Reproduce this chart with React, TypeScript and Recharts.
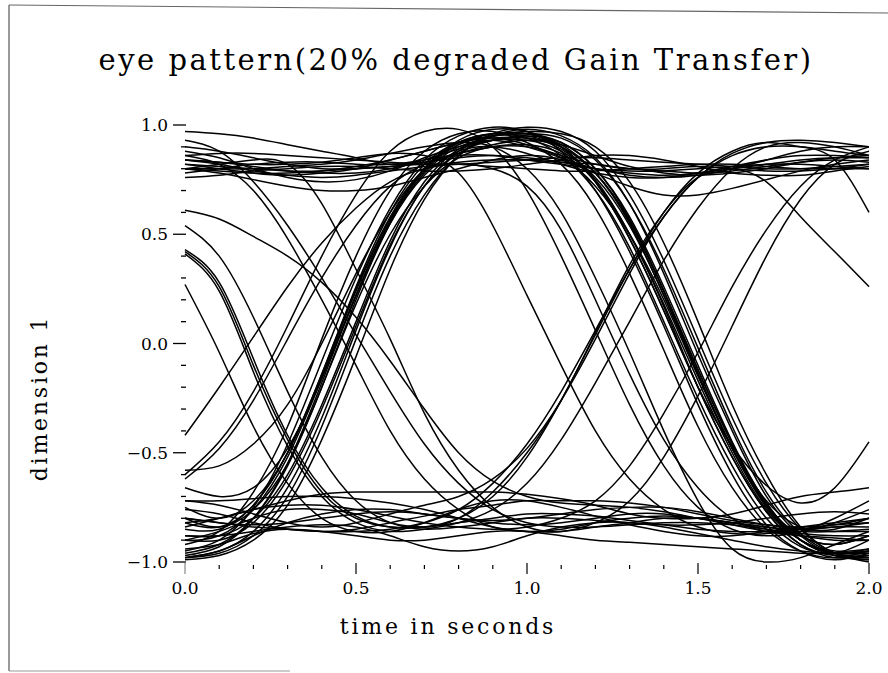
import { LineChart, Line, XAxis, YAxis } from 'recharts';

// sample times (seconds)
const times = [0, 0.1, 0.2, 0.3, 0.4, 0.5, 0.6, 0.7, 0.8, 0.9, 1.0, 1.1, 1.2, 1.3, 1.4, 1.5, 1.6, 1.7, 1.8, 1.9, 2.0];

const xTicks = [0, 0.1, 0.2, 0.3, 0.4, 0.5, 0.6, 0.7, 0.8, 0.9, 1.0, 1.1, 1.2, 1.3, 1.4, 1.5, 1.6, 1.7, 1.8, 1.9, 2.0];
const yTicks = [-1, -0.9, -0.8, -0.7, -0.6, -0.5, -0.4, -0.3, -0.2, -0.1, 0, 0.1, 0.2, 0.3, 0.4, 0.5, 0.6, 0.7, 0.8, 0.9, 1];

// low -> high -> low
const arc1 = [-0.97, -0.93, -0.8, -0.55, -0.18, 0.22, 0.56, 0.8, 0.93, 0.98, 0.97, 0.9, 0.74, 0.48, 0.15, -0.2, -0.52, -0.77, -0.92, -0.98, -0.97];
const arc2 = [-0.92, -0.86, -0.68, -0.38, 0.02, 0.4, 0.7, 0.88, 0.96, 0.97, 0.92, 0.82, 0.62, 0.32, -0.03, -0.38, -0.66, -0.85, -0.95, -0.98, -0.95];
const arc3 = [-0.98, -0.96, -0.88, -0.7, -0.38, 0.02, 0.4, 0.68, 0.86, 0.95, 0.98, 0.95, 0.85, 0.64, 0.32, -0.05, -0.4, -0.7, -0.88, -0.97, -0.99];
const arc4 = [-0.75, -0.8, -0.72, -0.5, -0.15, 0.24, 0.57, 0.8, 0.92, 0.96, 0.94, 0.86, 0.7, 0.44, 0.1, -0.25, -0.56, -0.8, -0.93, -0.96, -0.9];
const arc5 = [-0.58, -0.56, -0.46, -0.28, 0.0, 0.32, 0.6, 0.8, 0.91, 0.95, 0.95, 0.9, 0.78, 0.56, 0.24, -0.12, -0.46, -0.73, -0.9, -0.96, -0.94];
const arc6 = [-0.88, -0.88, -0.8, -0.6, -0.28, 0.1, 0.47, 0.74, 0.89, 0.95, 0.96, 0.92, 0.8, 0.58, 0.26, -0.1, -0.45, -0.73, -0.9, -0.97, -0.98];
const arc7 = [-0.8, -0.84, -0.76, -0.55, -0.2, 0.18, 0.5, 0.72, 0.85, 0.9, 0.9, 0.85, 0.72, 0.5, 0.2, -0.15, -0.48, -0.74, -0.88, -0.92, -0.88];
const arc8 = [-0.95, -0.9, -0.75, -0.46, -0.08, 0.3, 0.62, 0.84, 0.95, 0.99, 0.97, 0.88, 0.7, 0.42, 0.08, -0.28, -0.6, -0.83, -0.95, -0.99, -0.96];
const arc9 = [-0.85, -0.85, -0.74, -0.5, -0.14, 0.25, 0.58, 0.8, 0.92, 0.96, 0.96, 0.91, 0.78, 0.55, 0.22, -0.14, -0.48, -0.72, -0.84, -0.85, -0.8];
const arc10 = [-0.9, -0.9, -0.82, -0.62, -0.3, 0.08, 0.45, 0.72, 0.88, 0.95, 0.97, 0.96, 0.9, 0.74, 0.46, 0.1, -0.28, -0.6, -0.84, -0.96, -0.99];
const arc11 = [-0.66, -0.7, -0.66, -0.48, -0.16, 0.22, 0.56, 0.79, 0.91, 0.96, 0.96, 0.9, 0.74, 0.48, 0.15, -0.2, -0.47, -0.65, -0.73, -0.66, -0.45];
const arc12 = [-0.99, -0.97, -0.9, -0.74, -0.44, -0.06, 0.34, 0.66, 0.86, 0.96, 0.99, 0.97, 0.88, 0.68, 0.38, 0.02, -0.34, -0.64, -0.85, -0.96, -1.0];

// low -> high -> high
const riseHigh1 = [-0.96, -0.92, -0.8, -0.56, -0.2, 0.2, 0.55, 0.78, 0.9, 0.93, 0.9, 0.85, 0.8, 0.78, 0.77, 0.78, 0.8, 0.82, 0.84, 0.85, 0.85];
const riseHigh2 = [-0.82, -0.84, -0.74, -0.5, -0.14, 0.26, 0.6, 0.82, 0.92, 0.94, 0.91, 0.86, 0.82, 0.8, 0.8, 0.81, 0.8, 0.79, 0.79, 0.8, 0.82];
const riseHigh3 = [-0.9, -0.88, -0.76, -0.52, -0.16, 0.22, 0.55, 0.77, 0.88, 0.9, 0.87, 0.82, 0.78, 0.76, 0.76, 0.78, 0.81, 0.84, 0.86, 0.86, 0.85];
const riseHigh4 = [-0.98, -0.95, -0.86, -0.66, -0.34, 0.06, 0.44, 0.72, 0.87, 0.93, 0.94, 0.91, 0.86, 0.81, 0.78, 0.77, 0.78, 0.8, 0.83, 0.85, 0.86];
const riseHigh5 = [-0.62, -0.48, -0.26, 0.02, 0.3, 0.54, 0.72, 0.82, 0.86, 0.86, 0.84, 0.82, 0.8, 0.79, 0.79, 0.8, 0.81, 0.82, 0.82, 0.81, 0.8];

// high -> high -> low
const highFall1 = [0.82, 0.8, 0.78, 0.77, 0.78, 0.8, 0.84, 0.88, 0.92, 0.94, 0.94, 0.89, 0.75, 0.5, 0.17, -0.2, -0.52, -0.77, -0.92, -0.97, -0.97];
const highFall2 = [0.78, 0.8, 0.82, 0.83, 0.83, 0.82, 0.82, 0.84, 0.87, 0.9, 0.91, 0.87, 0.74, 0.5, 0.18, -0.17, -0.5, -0.76, -0.9, -0.95, -0.94];
const highFall3 = [0.88, 0.85, 0.8, 0.76, 0.74, 0.75, 0.79, 0.85, 0.9, 0.93, 0.93, 0.88, 0.76, 0.54, 0.22, -0.14, -0.48, -0.74, -0.88, -0.92, -0.88];
const highFall4 = [0.8, 0.79, 0.78, 0.78, 0.79, 0.81, 0.84, 0.88, 0.92, 0.95, 0.96, 0.94, 0.84, 0.64, 0.34, -0.02, -0.38, -0.68, -0.87, -0.96, -0.98];
const highFall5 = [0.84, 0.83, 0.81, 0.79, 0.78, 0.78, 0.8, 0.84, 0.89, 0.93, 0.95, 0.92, 0.8, 0.57, 0.24, -0.14, -0.48, -0.75, -0.9, -0.96, -0.96];
const highFall6 = [0.97, 0.96, 0.94, 0.91, 0.88, 0.85, 0.82, 0.83, 0.87, 0.91, 0.93, 0.9, 0.78, 0.56, 0.24, -0.12, -0.46, -0.74, -0.9, -0.96, -0.95];
const highFall7 = [0.84, 0.83, 0.82, 0.82, 0.83, 0.85, 0.87, 0.86, 0.78, 0.54, 0.22, -0.1, -0.4, -0.62, -0.76, -0.84, -0.87, -0.87, -0.85, -0.83, -0.82];
const highFall8 = [0.8, 0.8, 0.8, 0.81, 0.82, 0.84, 0.87, 0.9, 0.92, 0.9, 0.8, 0.6, 0.3, -0.04, -0.4, -0.72, -0.94, -1.0, -0.98, -0.92, -0.86];

// stays high
const high1 = [0.82, 0.81, 0.8, 0.79, 0.79, 0.8, 0.81, 0.82, 0.82, 0.81, 0.8, 0.79, 0.79, 0.8, 0.81, 0.82, 0.82, 0.81, 0.8, 0.8, 0.8];
const high2 = [0.8, 0.78, 0.75, 0.72, 0.7, 0.7, 0.72, 0.76, 0.8, 0.84, 0.86, 0.84, 0.78, 0.72, 0.68, 0.68, 0.71, 0.75, 0.79, 0.82, 0.84];
const high3 = [0.86, 0.87, 0.87, 0.86, 0.85, 0.84, 0.83, 0.82, 0.82, 0.83, 0.84, 0.85, 0.85, 0.84, 0.83, 0.82, 0.81, 0.8, 0.8, 0.81, 0.82];
const high4 = [0.9, 0.88, 0.85, 0.82, 0.8, 0.8, 0.81, 0.83, 0.85, 0.86, 0.85, 0.83, 0.8, 0.77, 0.76, 0.77, 0.8, 0.84, 0.88, 0.9, 0.9];
const high5 = [0.76, 0.77, 0.79, 0.8, 0.81, 0.81, 0.8, 0.79, 0.79, 0.8, 0.82, 0.84, 0.86, 0.86, 0.84, 0.81, 0.78, 0.77, 0.77, 0.79, 0.81];
const high6 = [0.84, 0.82, 0.79, 0.77, 0.76, 0.77, 0.79, 0.81, 0.83, 0.84, 0.84, 0.83, 0.82, 0.8, 0.79, 0.78, 0.79, 0.81, 0.83, 0.84, 0.83];

// stays low
const low1 = [-0.8, -0.82, -0.83, -0.82, -0.8, -0.78, -0.77, -0.78, -0.8, -0.82, -0.83, -0.82, -0.8, -0.78, -0.78, -0.8, -0.82, -0.84, -0.85, -0.84, -0.82];
const low2 = [-0.98, -0.95, -0.88, -0.82, -0.78, -0.76, -0.76, -0.78, -0.8, -0.81, -0.8, -0.78, -0.76, -0.75, -0.75, -0.77, -0.8, -0.83, -0.85, -0.86, -0.86];
const low3 = [-0.72, -0.72, -0.71, -0.7, -0.7, -0.71, -0.73, -0.76, -0.8, -0.84, -0.86, -0.86, -0.84, -0.82, -0.8, -0.8, -0.82, -0.85, -0.88, -0.9, -0.9];
const low4 = [-0.88, -0.88, -0.86, -0.84, -0.83, -0.84, -0.88, -0.93, -0.95, -0.93, -0.88, -0.84, -0.82, -0.82, -0.84, -0.87, -0.9, -0.93, -0.95, -0.96, -0.95];
const low5 = [-0.76, -0.78, -0.82, -0.85, -0.86, -0.85, -0.82, -0.79, -0.76, -0.74, -0.72, -0.72, -0.72, -0.73, -0.75, -0.78, -0.81, -0.83, -0.84, -0.83, -0.8];
const low6 = [-0.94, -0.92, -0.87, -0.85, -0.86, -0.88, -0.9, -0.9, -0.88, -0.86, -0.86, -0.88, -0.9, -0.91, -0.92, -0.93, -0.94, -0.95, -0.96, -0.96, -0.96];
const low7 = [-0.82, -0.8, -0.76, -0.72, -0.69, -0.68, -0.68, -0.68, -0.68, -0.68, -0.69, -0.71, -0.74, -0.78, -0.8, -0.8, -0.78, -0.74, -0.7, -0.68, -0.66];

// falling from the left edge
const fall1 = [0.61, 0.57, 0.49, 0.4, 0.28, 0.12, -0.08, -0.3, -0.5, -0.63, -0.7, -0.73, -0.74, -0.75, -0.77, -0.8, -0.83, -0.86, -0.88, -0.89, -0.9];
const fall2 = [0.54, 0.4, 0.12, -0.22, -0.52, -0.72, -0.82, -0.85, -0.84, -0.82, -0.8, -0.8, -0.81, -0.82, -0.83, -0.83, -0.82, -0.8, -0.78, -0.77, -0.78];
const fall3 = [0.42, 0.26, -0.1, -0.44, -0.68, -0.8, -0.84, -0.84, -0.82, -0.8, -0.78, -0.78, -0.79, -0.81, -0.83, -0.85, -0.86, -0.86, -0.85, -0.84, -0.84];
const fall4 = [0.41, 0.24, -0.13, -0.47, -0.7, -0.82, -0.86, -0.85, -0.82, -0.76, -0.64, -0.44, -0.18, 0.1, 0.38, 0.62, 0.8, 0.9, 0.92, 0.9, 0.86];
const fall5 = [0.27, -0.04, -0.38, -0.64, -0.8, -0.86, -0.86, -0.82, -0.76, -0.72, -0.72, -0.75, -0.79, -0.83, -0.86, -0.88, -0.88, -0.86, -0.84, -0.82, -0.8];
const fall6 = [0.93, 0.88, 0.74, 0.54, 0.3, 0.04, -0.22, -0.46, -0.64, -0.76, -0.82, -0.84, -0.84, -0.83, -0.82, -0.82, -0.83, -0.85, -0.87, -0.88, -0.88];
const fall7 = [0.8, 0.82, 0.84, 0.82, 0.64, 0.34, 0.02, -0.32, -0.58, -0.75, -0.84, -0.86, -0.82, -0.72, -0.52, -0.24, 0.08, 0.4, 0.66, 0.82, 0.88];
const fall8 = [0.86, 0.82, 0.7, 0.48, 0.2, -0.1, -0.4, -0.62, -0.76, -0.84, -0.86, -0.85, -0.82, -0.8, -0.79, -0.8, -0.82, -0.84, -0.86, -0.86, -0.85];
const fall9 = [0.43, 0.28, -0.07, -0.42, -0.66, -0.79, -0.84, -0.84, -0.8, -0.7, -0.52, -0.26, 0.04, 0.34, 0.6, 0.78, 0.88, 0.92, 0.9, 0.84, 0.6];

// early rise from the left edge
const early1 = [-0.42, -0.2, 0.03, 0.26, 0.46, 0.62, 0.74, 0.8, 0.82, 0.8, 0.72, 0.52, 0.2, -0.14, -0.44, -0.66, -0.8, -0.86, -0.86, -0.82, -0.76];
const early2 = [-0.6, -0.45, -0.22, 0.08, 0.4, 0.68, 0.88, 0.97, 0.98, 0.9, 0.7, 0.4, 0.06, -0.28, -0.56, -0.75, -0.85, -0.88, -0.86, -0.8, -0.72];

// late rise on the right
const late1 = [-0.8, -0.82, -0.84, -0.85, -0.86, -0.86, -0.85, -0.82, -0.76, -0.64, -0.46, -0.22, 0.06, 0.34, 0.58, 0.76, 0.87, 0.92, 0.93, 0.92, 0.9];
const late2 = [-0.9, -0.86, -0.8, -0.76, -0.76, -0.78, -0.82, -0.84, -0.8, -0.68, -0.5, -0.26, 0.05, 0.36, 0.6, 0.76, 0.8, 0.74, 0.58, 0.42, 0.26];
const late3 = [-0.72, -0.74, -0.78, -0.82, -0.84, -0.82, -0.78, -0.74, -0.7, -0.62, -0.48, -0.26, 0.02, 0.32, 0.58, 0.76, 0.86, 0.9, 0.9, 0.88, 0.86];
const late4 = [-0.84, -0.8, -0.76, -0.74, -0.74, -0.76, -0.79, -0.82, -0.84, -0.85, -0.84, -0.8, -0.72, -0.56, -0.32, -0.04, 0.26, 0.52, 0.72, 0.84, 0.9];

const traces = [
  arc1, arc2, arc3, arc4, arc5, arc6, arc7, arc8, arc9, arc10, arc11, arc12,
  riseHigh1, riseHigh2, riseHigh3, riseHigh4, riseHigh5,
  highFall1, highFall2, highFall3, highFall4, highFall5, highFall6, highFall7, highFall8,
  high1, high2, high3, high4, high5, high6,
  low1, low2, low3, low4, low5, low6, low7,
  fall1, fall2, fall3, fall4, fall5, fall6, fall7, fall8, fall9,
  early1, early2,
  late1, late2, late3, late4,
];

const data = times.map((t, i) => {
  const row: Record<string, number> = { t };
  traces.forEach((tr, k) => {
    row['s' + k] = tr[i];
  });
  return row;
});

const W = 888;
const H = 673;
const PLOT_LEFT = 185;
const PLOT_RIGHT = 869;
const PLOT_TOP = 125;
const PLOT_BOTTOM = 562;
const Y_AXIS_W = 60;
const X_AXIS_H = 40;
const FONT = '"DejaVu Serif", serif';

const isMajor = (v: number) => Math.abs(v * 2 - Math.round(v * 2)) < 1e-6;
const fmt = (v: number) => (v < 0 ? '\u2212' + Math.abs(v).toFixed(1) : v.toFixed(1));

function XTick(props: any) {
  const { x, payload } = props;
  const v = payload.value;
  const major = isMajor(v);
  return (
    <g>
      <line
        x1={x}
        x2={x}
        y1={major ? PLOT_BOTTOM + 1 : PLOT_BOTTOM + 3}
        y2={major ? PLOT_BOTTOM + 12 : PLOT_BOTTOM + 7}
        stroke={v === 0 ? '#888' : '#000'}
        strokeWidth={1.2}
      />
      {major && (
        <text x={x} y={PLOT_BOTTOM + 32} textAnchor="middle" fontSize={17} fontFamily={FONT} fill="#000">
          {fmt(v)}
        </text>
      )}
    </g>
  );
}

function YTick(props: any) {
  const { y, payload } = props;
  const v = payload.value;
  const major = isMajor(v);
  return (
    <g>
      <line
        x1={major ? PLOT_LEFT - 12 : PLOT_LEFT - 4}
        x2={PLOT_LEFT + 1}
        y1={y}
        y2={y}
        stroke="#000"
        strokeWidth={1.3}
      />
      {major && (
        <text x={PLOT_LEFT - 17} y={y + 6} textAnchor="end" fontSize={17} fontFamily={FONT} fill="#000">
          {fmt(v)}
        </text>
      )}
    </g>
  );
}

export default function App() {
  return (
    <div style={{ position: 'absolute', left: 0, top: 0, width: W, height: H, background: '#fff' }}>
      <svg width={W} height={H} style={{ position: 'absolute', left: 0, top: 0 }}>
        <line x1={9} y1={5} x2={9} y2={671} stroke="#555" strokeWidth={1.2} />
        <line x1={9} y1={5} x2={888} y2={13} stroke="#666" strokeWidth={1.2} />
        <line x1={9} y1={671} x2={290} y2={671} stroke="#999" strokeWidth={1} />
        <text x={456} y={70} textAnchor="middle" fontSize={29} letterSpacing={2.5} fontFamily={FONT} fill="#000">
          eye pattern(20% degraded Gain Transfer)
        </text>
        <text x={448} y={634} textAnchor="middle" fontSize={22} letterSpacing={2.8} fontFamily={FONT} fill="#000">
          time in seconds
        </text>
        <text
          x={47}
          y={398}
          transform="rotate(-90, 47, 398)"
          textAnchor="middle"
          fontSize={22}
          letterSpacing={2.8}
          fontFamily={FONT}
          fill="#000"
        >
          dimension 1
        </text>
      </svg>
      <div style={{ position: 'absolute', left: 0, top: 0 }}>
        <LineChart
          width={W}
          height={H}
          data={data}
          margin={{
            top: PLOT_TOP,
            right: W - PLOT_RIGHT,
            bottom: H - PLOT_BOTTOM - X_AXIS_H,
            left: PLOT_LEFT - Y_AXIS_W,
          }}
        >
          <XAxis
            dataKey="t"
            type="number"
            domain={[0, 2]}
            ticks={xTicks}
            interval={0}
            height={X_AXIS_H}
            axisLine={false}
            tickLine={false}
            tick={(p: any) => <XTick {...p} />}
          />
          <YAxis
            type="number"
            domain={[-1, 1]}
            ticks={yTicks}
            interval={0}
            width={Y_AXIS_W}
            axisLine={false}
            tickLine={false}
            tick={(p: any) => <YTick {...p} />}
          />
          {traces.map((_, k) => (
            <Line
              key={k}
              dataKey={'s' + k}
              type="natural"
              stroke="#000"
              strokeWidth={1.5}
              dot={false}
              activeDot={false}
              isAnimationActive={false}
            />
          ))}
        </LineChart>
      </div>
    </div>
  );
}
